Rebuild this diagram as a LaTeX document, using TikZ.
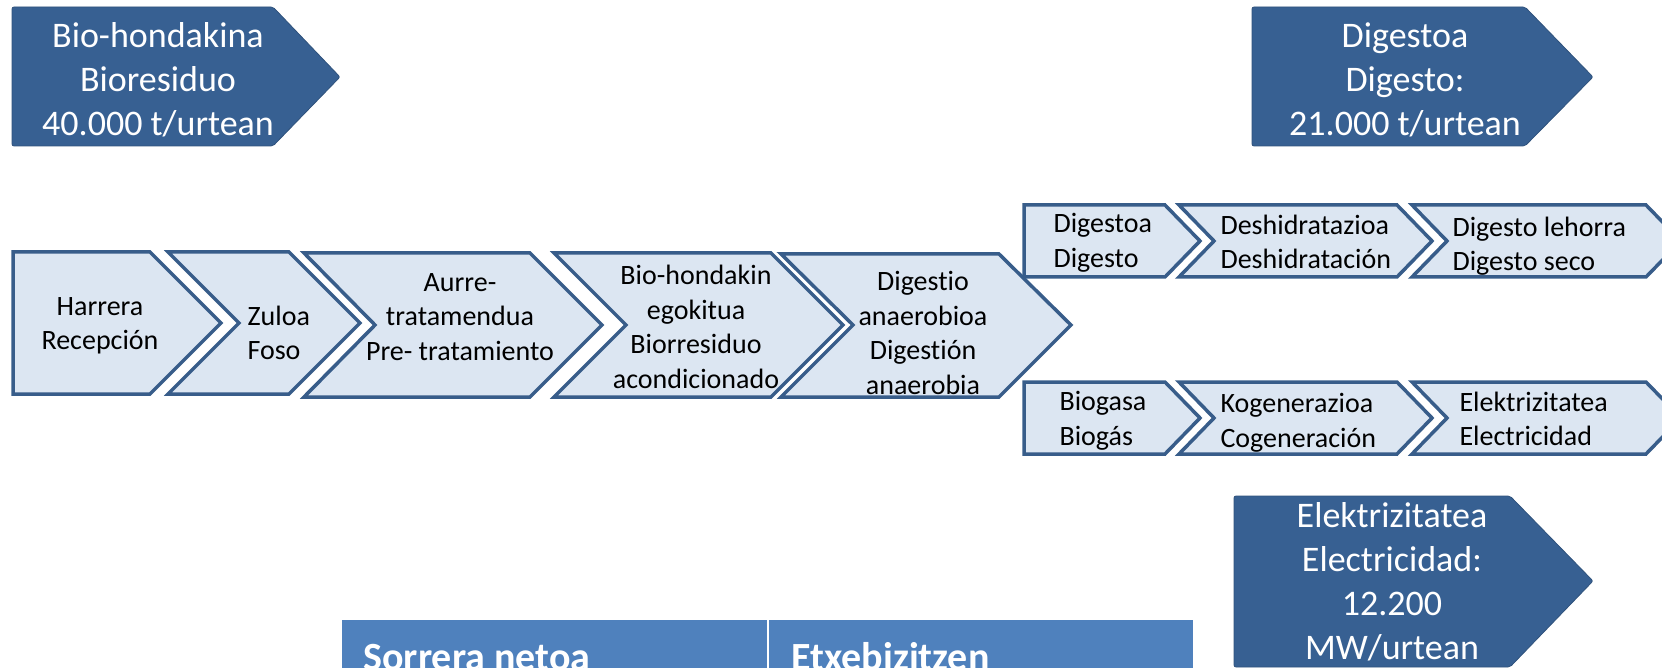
\documentclass[tikz,border=0pt]{standalone}
\usepackage{fontspec}
\setmainfont{Carlito}[Ligatures=NoCommon]
\usetikzlibrary{positioning}
\definecolor{chevfill}{HTML}{DCE6F2}
\definecolor{chevline}{HTML}{385D8A}
\definecolor{tagblue}{HTML}{376092}
\definecolor{tablehead}{HTML}{4F81BD}

\begin{document}
\begin{tikzpicture}[x=1pt, y=-1pt,
  chev/.style={fill=chevfill, draw=chevline, line width=3.5pt, line join=miter},
  tag/.style={fill=tagblue, draw=tagblue!85!black, line width=0.8pt, rounded corners=2pt},
  tagtext/.style={white, align=center, font=\fontsize{36}{44}\selectfont},
  steptext/.style={black, align=center, font=\fontsize{28}{34.5}\selectfont},
  subtext/.style={black, align=left, anchor=west, font=\fontsize{28}{34.5}\selectfont}]
  % Page frame
  \path[use as bounding box] (0,0) rectangle (1662,668);
  \clip (0,0) rectangle (1662,668);

  % Input and output tags (dark pentagons)
  \draw[tag] (12,7) -- (273,7) -- (340,77) -- (273,146) -- (12,146) -- cycle;
  \node[tagtext] (bioin) at (158,80) {Bio-hondakina\\Bioresiduo\\40.000 t/urtean};

  \draw[tag] (1252,7) -- (1525,7) -- (1593,77) -- (1525,146) -- (1252,146) -- cycle;
  \node[tagtext] (digout) at (1405,80) {Digestoa\\Digesto:\\21.000 t/urtean};

  \draw[tag] (1234,496) -- (1510,496) -- (1593,581) -- (1510,667) -- (1234,667) -- cycle;
  \node[tagtext] (elekout) at (1392,582) {Elektrizitatea\\Electricidad:\\12.200\\MW/urtean};

  % Main process chain
  \draw[chev] (13,252) -- (150,252) -- (221,323) -- (150,394) -- (13,394) -- cycle;
  \node[steptext] (harrera) at (100,326) {Harrera\\Recepción};

  \draw[chev] (168,252) -- (289,252) -- (360,323) -- (289,394) -- (168,394) -- (239,323) -- cycle;
  \node[subtext] (zuloa) at (244,333) {Zuloa\\Foso};

  \draw[chev] (304,253) -- (530,253) -- (602,325) -- (530,397) -- (304,397) -- (375,325) -- cycle;
  \node[steptext] (aurre) at (460,317) {Aurre-\\tratamendua\\Pre- tratamiento};

  \draw[chev] (554,253) -- (771,253) -- (843,325) -- (771,397) -- (554,397) -- (626,325) -- cycle;
  \node[steptext] (biohond) at (696,327) {Bio-hondakin\\egokitua\\Biorresiduo\\acondicionado};

  \draw[chev] (781,254) -- (999,254) -- (1071,325) -- (999,397) -- (781,397) -- (853,325) -- cycle;
  \node[steptext] (digestio) at (923,333) {Digestio\\anaerobioa\\Digestión\\anaerobia};

  % Digestate branch
  \draw[chev] (1024,205) -- (1165,205) -- (1200,241) -- (1165,277) -- (1024,277) -- cycle;
  \node[subtext] (digestoa) at (1050,243) {Digestoa\\Digesto};

  \draw[chev] (1179,205) -- (1397,205) -- (1432,241) -- (1397,277) -- (1179,277) -- (1214,241) -- cycle;
  \node[subtext] (deshid) at (1217,242) {Deshidratazioa\\Deshidratación};

  \draw[chev] (1412,205) -- (1646,205) -- (1681,241) -- (1646,277) -- (1412,277) -- (1447,241) -- cycle;
  \node[subtext] (lehorra) at (1449,246) {Digesto lehorra\\Digesto seco};

  % Biogas branch
  \draw[chev] (1024,382) -- (1165,382) -- (1200,418) -- (1165,454) -- (1024,454) -- cycle;
  \node[subtext] (biogasa) at (1056,421) {Biogasa\\Biogás};

  \draw[chev] (1179,382) -- (1397,382) -- (1432,418) -- (1397,454) -- (1179,454) -- (1214,418) -- cycle;
  \node[subtext] (kogen) at (1217,423) {Kogenerazioa\\Cogeneración};

  \draw[chev] (1412,382) -- (1646,382) -- (1681,418) -- (1646,454) -- (1412,454) -- (1447,418) -- cycle;
  \node[subtext] (elektri) at (1456,419) {Elektrizitatea\\Electricidad};

  % Table header (cut at the bottom)
  \fill[tablehead] (342,620) rectangle (1193,700);
  \draw[white, line width=2pt] (768,620) -- (768,700);
  \node[white, anchor=base west, font=\fontsize{40}{48}\selectfont\bfseries] (sorrera) at (360,670) {Sorrera netoa};
  \node[white, anchor=base west, font=\fontsize{40}{48}\selectfont\bfseries] (etxebiz) at (788,670) {Etxebizitzen};
\end{tikzpicture}
\end{document}
